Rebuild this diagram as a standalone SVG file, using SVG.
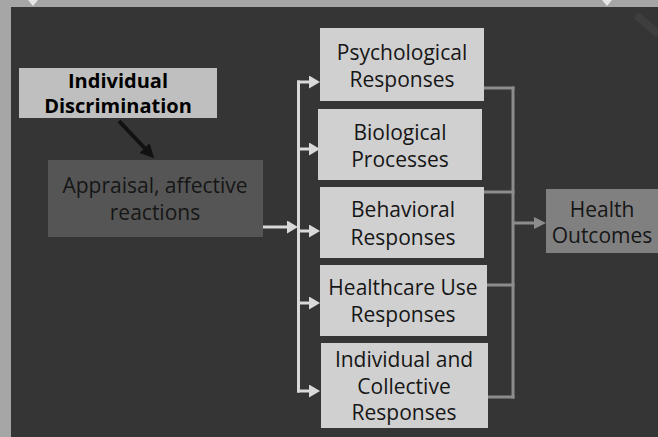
<svg xmlns="http://www.w3.org/2000/svg" width="658" height="437" viewBox="0 0 658 437">
  <defs>
    <style>
      .t { font-family: "Open Sans", "Noto Sans", "Liberation Sans", sans-serif; font-size: 21px; fill: #161616; text-anchor: middle; }
      .b { font-weight: bold; font-size: 20px; fill: #000; }
      .resp { fill: #d0d0d0; }
      .wl { stroke: #d9d9d9; stroke-width: 3; fill: none; }
      .gl { stroke: #8c8c8c; stroke-width: 3; fill: none; }
    </style>
    <marker id="aw" markerUnits="userSpaceOnUse" markerWidth="11" markerHeight="13" refX="0" refY="6.5" orient="auto">
      <path d="M0,0 L11,6.5 L0,13 z" fill="#d9d9d9"/>
    </marker>
    <marker id="ag" markerUnits="userSpaceOnUse" markerWidth="12" markerHeight="12" refX="0" refY="6" orient="auto">
      <path d="M0,0 L12,6 L0,12 z" fill="#8c8c8c"/>
    </marker>
    <marker id="ab" markerUnits="userSpaceOnUse" markerWidth="14" markerHeight="14" refX="0" refY="7" orient="auto">
      <path d="M0,0 L14,7 L0,14 z" fill="#111"/>
    </marker>
  </defs>

  <!-- background frame -->
  <rect x="0" y="0" width="658" height="437" fill="#a6a6a6"/>
  <rect x="11" y="7" width="647" height="430" fill="#353535"/>
  <path d="M28,0 L38,0 L33,6 z" fill="#e6e6e6"/>
  <path d="M602,0 L612,0 L607,6 z" fill="#e6e6e6"/>
  <path d="M636,15 L658,34" stroke="#3e3e3e" stroke-width="8"/>

  <!-- connectors -->
  <g id="connectors">
    <path d="M119,121 L144.5,148" stroke="#111" stroke-width="4" fill="none" marker-end="url(#ab)"/>
    <path class="wl" d="M263,227 H287" marker-end="url(#aw)"/>
    <path class="wl" d="M298.5,80.5 V392.5"/>
    <path class="wl" d="M297,82 H309" marker-end="url(#aw)"/>
    <path class="wl" d="M297,149 H309" marker-end="url(#aw)"/>
    <path class="wl" d="M297,231 H309" marker-end="url(#aw)"/>
    <path class="wl" d="M297,303 H309" marker-end="url(#aw)"/>
    <path class="wl" d="M297,391 H309" marker-end="url(#aw)"/>
    <path class="gl" d="M484,88 H514.5"/>
    <path class="gl" d="M484,192 H514.5"/>
    <path class="gl" d="M487,285 H514.5"/>
    <path class="gl" d="M488,397 H514.5"/>
    <path class="gl" d="M513,86.5 V398.5"/>
    <path class="gl" d="M513,223 H534" marker-end="url(#ag)"/>
  </g>

  <!-- nodes -->
  <g id="individual-discrimination">
    <rect x="19" y="68" width="198" height="50" fill="#bfbfbf"/>
    <text class="t b" x="118" y="88">Individual</text>
    <text class="t b" x="118" y="113">Discrimination</text>
  </g>
  <g id="appraisal">
    <rect x="48" y="160" width="215" height="77" fill="#555555"/>
    <text class="t" x="155" y="193">Appraisal, affective</text>
    <text class="t" x="155" y="220">reactions</text>
  </g>
  <g id="psychological">
    <rect class="resp" x="320" y="28" width="164" height="73"/>
    <text class="t" x="402" y="60">Psychological</text>
    <text class="t" x="402" y="87">Responses</text>
  </g>
  <g id="biological">
    <rect class="resp" x="318" y="109" width="164" height="71"/>
    <text class="t" x="400" y="140">Biological</text>
    <text class="t" x="400" y="167">Processes</text>
  </g>
  <g id="behavioral">
    <rect class="resp" x="320" y="187" width="164" height="71"/>
    <text class="t" x="403" y="217">Behavioral</text>
    <text class="t" x="403" y="245">Responses</text>
  </g>
  <g id="healthcare">
    <rect class="resp" x="320" y="265" width="167" height="71"/>
    <text class="t" x="403" y="295">Healthcare Use</text>
    <text class="t" x="403" y="322">Responses</text>
  </g>
  <g id="individual-collective">
    <rect class="resp" x="321" y="343" width="167" height="85"/>
    <text class="t" x="404" y="367">Individual and</text>
    <text class="t" x="404" y="394">Collective</text>
    <text class="t" x="404" y="420">Responses</text>
  </g>
  <g id="health-outcomes">
    <rect x="546" y="189" width="112" height="64" fill="#808080"/>
    <text class="t" x="602" y="217">Health</text>
    <text class="t" x="602" y="243">Outcomes</text>
  </g>
</svg>
